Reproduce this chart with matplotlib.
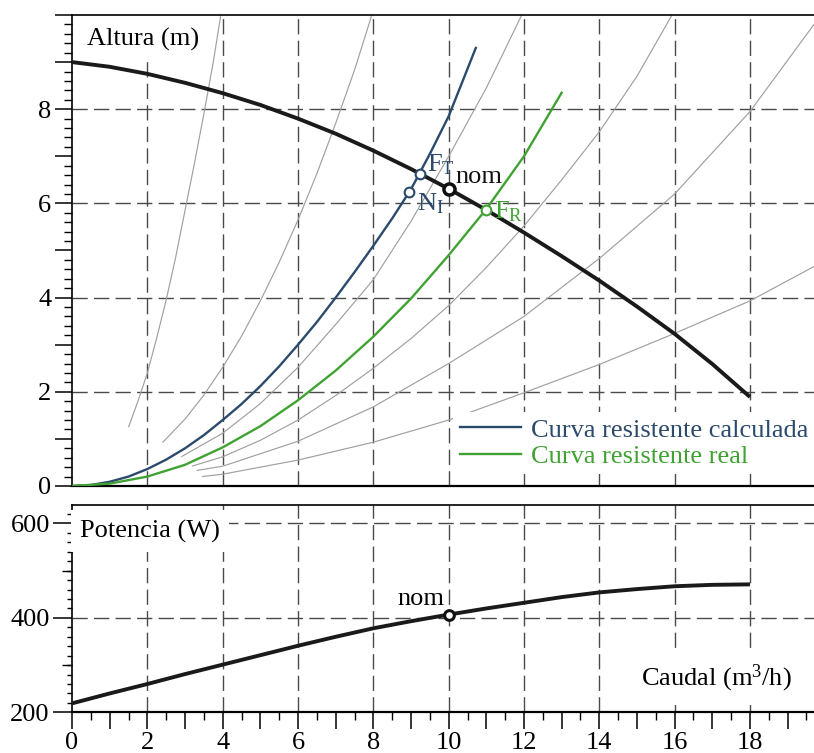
import matplotlib
matplotlib.use('Agg')
import matplotlib.pyplot as plt
from matplotlib.ticker import MultipleLocator, FuncFormatter, FixedLocator

plt.rcParams['font.family'] = ['Liberation Serif', 'DejaVu Serif']
plt.rcParams['mathtext.fontset'] = 'custom'
plt.rcParams['mathtext.rm'] = 'Liberation Serif'
plt.rcParams['mathtext.it'] = 'Liberation Serif:italic'
plt.rcParams['font.size'] = 18

# ---------------- data ----------------
# pump head curve (Altura)
pump_q = [0, 1, 2, 3, 4, 5, 6, 7, 8, 9, 10, 11, 12, 13, 14, 15, 16, 17, 18]
pump_h = [9.0, 8.9, 8.75, 8.56, 8.34, 8.09, 7.8, 7.48, 7.12, 6.73, 6.31, 5.86, 5.38, 4.88, 4.36, 3.81, 3.23, 2.59, 1.89]

# system curves
calc_q = [0, 0.5, 1, 1.5, 2, 2.5, 3, 3.5, 4, 4.5, 5, 5.5, 6, 6.5, 7, 7.5, 8, 8.5, 9, 9.5, 10, 10.72]
calc_h = [0, 0.02, 0.09, 0.2, 0.36, 0.56, 0.8, 1.08, 1.4, 1.74, 2.12, 2.54, 3.0, 3.48, 4.0, 4.54, 5.1, 5.68, 6.3, 7.05, 7.85, 9.3]
real_q = [0, 1, 2, 3, 4, 5, 6, 7, 8, 9, 10, 11, 12, 13]
real_h = [0, 0.05, 0.2, 0.45, 0.82, 1.27, 1.82, 2.45, 3.17, 3.98, 4.9, 5.88, 7.0, 8.35]

# grey family of curves
grey_a_q = [1.5, 1.75, 2.0, 2.25, 2.5, 2.75, 3.0, 3.25, 3.5, 3.75, 3.95]
grey_a_h = [1.25, 1.8, 2.4, 3.15, 3.95, 4.85, 5.85, 6.85, 7.9, 9.0, 10.0]
grey_b_q = [2.4, 3, 3.5, 4, 4.5, 5, 5.5, 6, 6.5, 7, 7.5, 7.96]
grey_b_h = [0.92, 1.42, 1.93, 2.52, 3.18, 3.93, 4.75, 5.65, 6.63, 7.7, 8.83, 10.0]
grey_c_q = [2.9, 4, 5, 6, 7, 8, 9, 10, 11, 11.94]
grey_c_h = [0.62, 1.12, 1.75, 2.52, 3.43, 4.38, 5.62, 7.0, 8.45, 10.0]
grey_d_q = [3.18, 4, 5, 6, 7, 8, 9, 10, 11, 12, 13, 14, 15, 15.93]
grey_d_h = [0.42, 0.62, 0.97, 1.4, 1.92, 2.5, 3.13, 3.83, 4.64, 5.52, 6.5, 7.52, 8.7, 10.0]
grey_e_q = [3.31, 4, 6, 8, 10, 12, 14, 16, 18, 19.7]
grey_e_h = [0.33, 0.42, 0.95, 1.68, 2.6, 3.6, 4.83, 6.2, 7.95, 9.8]
grey_f_q = [3.45, 4, 6, 8, 10, 12, 14, 16, 18, 19.7]
grey_f_h = [0.2, 0.25, 0.55, 0.93, 1.4, 1.98, 2.58, 3.24, 3.93, 4.66]
grey_curves = [(grey_a_q, grey_a_h), (grey_b_q, grey_b_h), (grey_c_q, grey_c_h),
               (grey_d_q, grey_d_h), (grey_e_q, grey_e_h), (grey_f_q, grey_f_h)]

# operating points
pt_ft = (9.24, 6.62)
pt_ni = (8.96, 6.24)
pt_nom = (10.0, 6.31)
pt_fr = (10.99, 5.86)

# power curve (Potencia)
pow_q = [0, 1, 2, 3, 4, 5, 6, 7, 8, 9, 10, 11, 12, 13, 14, 15, 16, 17, 18]
pow_w = [219, 240, 260, 281, 301, 321, 341, 360, 378, 393, 407, 420, 432, 444, 454, 461, 467, 470, 471]
pow_nom = (10.0, 407)

grid_x = [2, 4, 6, 8, 10, 12, 14, 16, 18]
grid_y_top = [2, 4, 6, 8]
grid_y_bot = [400, 600]

BLUE = '#2b4a6c'
GREEN = '#40a232'
GREY = '#a0a0a0'
GRIDC = '#4a4a4a'
DASH = (0, (11, 4.5))

fig = plt.figure(figsize=(8.14, 7.53), dpi=100)
ax1 = fig.add_axes([0.0885, 0.3546, 0.9115, 0.6255])
ax2 = fig.add_axes([0.0885, 0.054, 0.9115, 0.2753])


def even_label(v, p):
    n = int(round(v))
    return f'{n}' if n % 2 == 0 and n < 10 else ''


def even_label_x(v, p):
    n = int(round(v))
    return f'{n}' if n % 2 == 0 else ''


# ---------------- top axes ----------------
ax1.set_xlim(0, 19.7)
ax1.set_ylim(0, 10.0)
ax1.spines['right'].set_visible(False)
for s in ['top', 'left']:
    ax1.spines[s].set_linewidth(1.2)
ax1.spines['bottom'].set_linewidth(1.6)
ax1.tick_params(axis='x', bottom=False, labelbottom=False)
ax1.yaxis.set_major_locator(MultipleLocator(1))
ax1.yaxis.set_minor_locator(MultipleLocator(0.2))
ax1.yaxis.set_major_formatter(FuncFormatter(even_label))
ax1.tick_params(axis='y', which='major', direction='out', length=12, width=1.1, pad=3, labelsize=19)
ax1.tick_params(axis='y', which='minor', direction='out', length=5.5, width=1.0)

for gx in grid_x:
    ax1.axvline(gx, color=GRIDC, lw=1.0, ls=DASH, zorder=1)
for gy in grid_y_top:
    ax1.axhline(gy, color=GRIDC, lw=1.0, ls=DASH, zorder=1)

for gq, gh in grey_curves:
    ax1.plot(gq, gh, color=GREY, lw=0.85, zorder=2, solid_capstyle='butt', solid_joinstyle='round')

l1, = ax1.plot(calc_q, calc_h, color=BLUE, lw=1.7, zorder=3, label='Curva resistente calculada',
               solid_joinstyle='round')
l2, = ax1.plot(real_q, real_h, color=GREEN, lw=1.7, zorder=3, label='Curva resistente real',
               solid_joinstyle='round')
ax1.plot(pump_q, pump_h, color='#1a1a1a', lw=2.8, zorder=4, solid_capstyle='butt', solid_joinstyle='round')

ax1.plot(*pt_ft, 'o', ms=7, mfc='white', mec=BLUE, mew=1.5, zorder=6)
ax1.plot(*pt_ni, 'o', ms=7, mfc='white', mec=BLUE, mew=1.5, zorder=6)
ax1.plot(*pt_fr, 'o', ms=7, mfc='white', mec=GREEN, mew=1.5, zorder=6)
ax1.plot(*pt_nom, 'o', ms=8, mfc='white', mec='#111111', mew=2.5, zorder=6)

ax1.text(9.42, 6.67, r'F$_{\mathrm{T}}$', color=BLUE, fontsize=19, ha='left', va='baseline', zorder=7)
ax1.text(9.15, 5.86, r'N$_{\mathrm{I}}$', color=BLUE, fontsize=19, ha='left', va='baseline', zorder=7)
ax1.text(10.17, 6.43, 'nom', color='#111111', fontsize=19, ha='left', va='baseline', zorder=7)
ax1.text(11.2, 5.69, r'F$_{\mathrm{R}}$', color=GREEN, fontsize=19, ha='left', va='baseline', zorder=7)

ax1.text(0.4, 9.36, 'Altura (m)', fontsize=19, ha='left', va='baseline', zorder=5,
         bbox=dict(boxstyle='square,pad=0.35', fc='white', ec='none'))

leg = ax1.legend(handles=[l1, l2], loc='upper left', bbox_to_anchor=(0.514, 0.158),
                 frameon=True, fancybox=False, edgecolor='none', facecolor='white', framealpha=1,
                 borderpad=0.25, handlelength=2.3, handletextpad=0.4, labelspacing=0.1,
                 borderaxespad=0, labelcolor='linecolor', fontsize=19)
leg.set_zorder(8)

# ---------------- bottom axes ----------------
ax2.set_xlim(0, 19.7)
ax2.set_ylim(200, 639)
ax2.spines['right'].set_visible(False)
for s in ['top', 'left']:
    ax2.spines[s].set_linewidth(1.2)
ax2.spines['bottom'].set_linewidth(1.6)
ax2.xaxis.set_major_locator(MultipleLocator(1))
ax2.xaxis.set_minor_locator(MultipleLocator(0.5))
ax2.xaxis.set_major_formatter(FuncFormatter(even_label_x))
ax2.tick_params(axis='x', which='major', direction='out', length=12, width=1.1, pad=2, labelsize=19)
ax2.tick_params(axis='x', which='minor', direction='out', length=6, width=1.0)
ax2.yaxis.set_major_locator(FixedLocator([200, 400, 600]))
ax2.yaxis.set_minor_locator(MultipleLocator(20))
ax2.tick_params(axis='y', which='major', direction='out', length=14, width=1.1, pad=2, labelsize=19)
ax2.tick_params(axis='y', which='minor', direction='out', length=3.8, width=1.0)
sec = ax2.secondary_yaxis('left')
sec.set_yticks([300, 500])
sec.set_yticklabels([])
sec.tick_params(axis='y', direction='out', length=7.5, width=1.0)
sec.spines['left'].set_visible(False)

for gx in grid_x:
    ax2.axvline(gx, color=GRIDC, lw=1.0, ls=DASH, zorder=1)
for gy in grid_y_bot:
    ax2.axhline(gy, color=GRIDC, lw=1.0, ls=DASH, zorder=1)

ax2.plot(pow_q, pow_w, color='#1a1a1a', lw=2.8, zorder=4, solid_capstyle='butt', solid_joinstyle='round')
ax2.plot(*pow_nom, 'o', ms=7, mfc='white', mec='#111111', mew=2.2, zorder=6)
ax2.text(9.9, 427, 'nom', fontsize=19, ha='right', va='baseline', zorder=7)

ax2.text(0.21, 571, 'Potencia (W)', fontsize=19, ha='left', va='baseline', zorder=5,
         bbox=dict(boxstyle='square,pad=0.35', fc='white', ec='none'))
ax2.text(15.1, 256, r'Caudal (m$^{3}$/h)', fontsize=19, ha='left', va='baseline', zorder=5,
         bbox=dict(boxstyle='square,pad=0.4', fc='white', ec='none'))

fig.savefig('out.png', dpi=100)
